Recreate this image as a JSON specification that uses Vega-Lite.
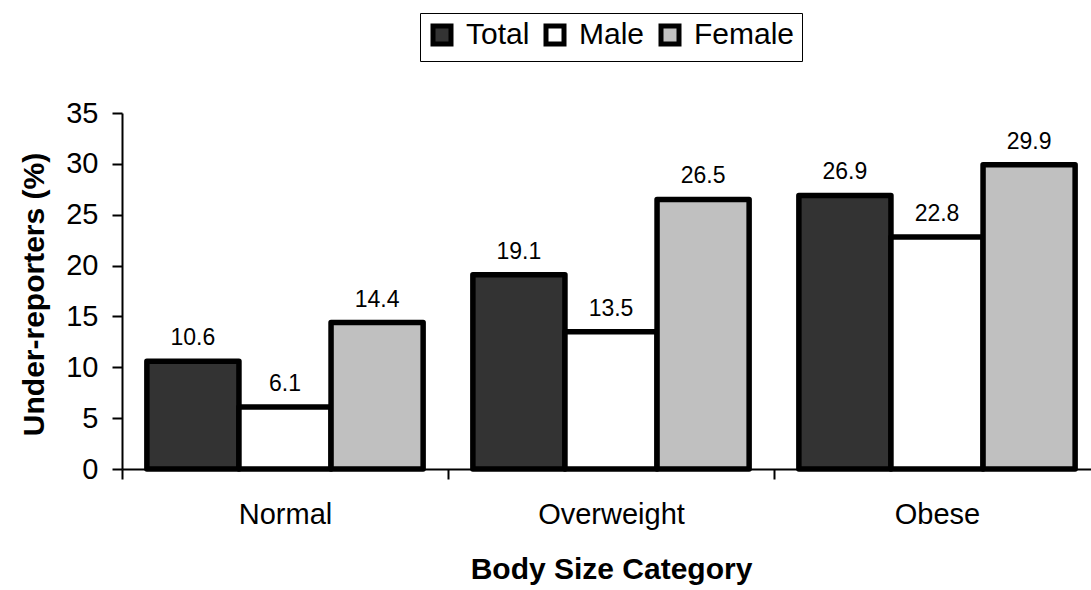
{
  "$schema": "https://vega.github.io/schema/vega-lite/v6.json",
  "autosize": {"type": "none"},
  "width": 978,
  "height": 356,
  "padding": {"left": 122, "top": 113, "right": -9, "bottom": 121},
  "background": "white",
  "config": {"view": {"stroke": null}, "font": "Liberation Sans"},
  "data": {
    "values": [
      {"category": "Normal", "group": "Total", "pct": 10.6},
      {"category": "Normal", "group": "Male", "pct": 6.1},
      {"category": "Normal", "group": "Female", "pct": 14.4},
      {"category": "Overweight", "group": "Total", "pct": 19.1},
      {"category": "Overweight", "group": "Male", "pct": 13.5},
      {"category": "Overweight", "group": "Female", "pct": 26.5},
      {"category": "Obese", "group": "Total", "pct": 26.9},
      {"category": "Obese", "group": "Male", "pct": 22.8},
      {"category": "Obese", "group": "Female", "pct": 29.9}
    ]
  },
  "encoding": {
    "x": {
      "field": "category",
      "type": "nominal",
      "sort": ["Normal", "Overweight", "Obese"],
      "scale": {"paddingInner": 0, "paddingOuter": 0},
      "axis": {
        "title": "Body Size Category",
        "labelAngle": 0,
        "domainColor": "black",
        "domainWidth": 2,
        "tickColor": "black",
        "tickWidth": 2,
        "tickSize": 10,
        "tickBand": "extent",
        "labelFontSize": 29,
        "labelPadding": 21,
        "labelColor": "black",
        "titleFontSize": 30,
        "titleFontWeight": "bold",
        "titleColor": "black",
        "titleBaseline": "alphabetic",
        "titleY": 109
      }
    },
    "xOffset": {
      "field": "group",
      "type": "nominal",
      "sort": ["Total", "Male", "Female"],
      "scale": {"paddingInner": 0, "paddingOuter": 0.27}
    },
    "y": {
      "field": "pct",
      "type": "quantitative",
      "scale": {"domain": [0, 35], "nice": false},
      "axis": {
        "title": "Under-reporters (%)",
        "values": [0, 5, 10, 15, 20, 25, 30, 35],
        "grid": false,
        "domainColor": "black",
        "domainWidth": 2,
        "tickColor": "black",
        "tickWidth": 2,
        "tickSize": 10,
        "labelFontSize": 29,
        "labelPadding": 14,
        "labelColor": "black",
        "titleFontSize": 30,
        "titleFontWeight": "bold",
        "titleColor": "black",
        "titleAngle": -90,
        "titleAlign": "center",
        "titleBaseline": "alphabetic",
        "titleX": -79,
        "titleY": 181
      }
    }
  },
  "layer": [
    {
      "mark": {"type": "bar", "stroke": "black", "strokeWidth": 5.5, "strokeJoin": "round"},
      "encoding": {
        "color": {
          "field": "group",
          "type": "nominal",
          "scale": {"domain": ["Total", "Male", "Female"], "range": ["#333333", "#ffffff", "#c0c0c0"]},
          "legend": {
            "title": null,
            "orient": "none",
            "legendX": 298,
            "legendY": -100,
            "direction": "horizontal",
            "strokeColor": "black",
            "fillColor": "white",
            "padding": 7,
            "symbolType": "square",
            "symbolSize": 324,
            "symbolStrokeColor": "black",
            "symbolStrokeWidth": 5,
            "symbolOpacity": 1,
            "labelFontSize": 30,
            "labelColor": "black",
            "labelOffset": 9,
            "columnPadding": 6
          }
        }
      }
    },
    {
      "mark": {"type": "text", "baseline": "alphabetic", "dy": -16, "fontSize": 23, "color": "black"},
      "encoding": {"text": {"field": "pct", "type": "quantitative", "format": ".1f"}}
    }
  ]
}
